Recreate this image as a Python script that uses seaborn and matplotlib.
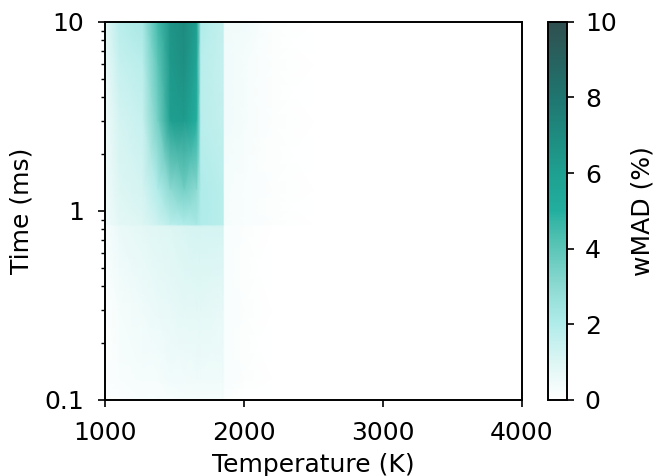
import numpy as np
import matplotlib
matplotlib.use("Agg")
import matplotlib.pyplot as plt
from matplotlib.colors import LinearSegmentedColormap
import seaborn as sns

# Temperature nodes (K)
temperature = [1000, 1100, 1270, 1380, 1470, 1570, 1660, 1690, 1850, 1860, 2000, 2200, 2500, 4000]
# Time nodes (ms)
time_ms = [0.1, 0.13, 0.3, 0.83, 0.85, 1.3, 3, 6, 10]
# wMAD (%) values, rows = time (low to high), cols = temperature
wmad_t0p10 = [0.1, 0.1, 0.2, 0.2, 0.2, 0.3, 0.3, 0.3, 0.3, 0.1, 0.0, 0.0, 0.0, 0.0]
wmad_t0p13 = [0.1, 0.2, 0.3, 0.3, 0.4, 0.4, 0.5, 0.5, 0.5, 0.2, 0.1, 0.0, 0.0, 0.0]
wmad_t0p30 = [0.1, 0.3, 0.5, 0.6, 0.7, 0.8, 0.8, 0.8, 0.7, 0.2, 0.1, 0.0, 0.0, 0.0]
wmad_t0p83 = [0.2, 0.6, 0.8, 0.9, 1.0, 1.1, 1.2, 1.2, 1.2, 0.2, 0.1, 0.0, 0.0, 0.0]
wmad_t0p85 = [0.4, 0.8, 1.0, 1.4, 1.8, 2.0, 2.2, 2.0, 1.8, 0.3, 0.2, 0.1, 0.0, 0.0]
wmad_t1p3 = [0.4, 1.0, 1.2, 2.0, 3.0, 3.5, 3.0, 2.0, 1.8, 0.3, 0.2, 0.1, 0.0, 0.0]
wmad_t3 = [0.5, 1.2, 1.5, 3.5, 6.0, 6.2, 5.0, 1.8, 1.6, 0.4, 0.3, 0.1, 0.0, 0.0]
wmad_t6 = [0.6, 1.5, 1.8, 4.0, 6.3, 6.8, 5.5, 1.8, 1.5, 0.4, 0.3, 0.1, 0.0, 0.0]
wmad_t10 = [0.8, 1.8, 2.2, 4.5, 6.5, 7.0, 6.0, 2.0, 1.6, 0.5, 0.4, 0.1, 0.0, 0.0]

x_ticks = [1000, 2000, 3000, 4000]
y_ticks = [0.1, 1, 10]
y_ticklabels = ["0.1", "1", "10"]
cbar_ticks = [0, 2, 4, 6, 8, 10]

sns.set_style("ticks")
plt.rcParams["font.family"] = ["DejaVu Sans"]
for k in ["text.color", "axes.labelcolor", "xtick.color", "ytick.color", "axes.edgecolor"]:
    plt.rcParams[k] = "black"

FS = 18

cmap = LinearSegmentedColormap.from_list(
    "wmad",
    [(0.0, "#ffffff"), (0.1, "#dcf6f4"), (0.2, "#b0ecea"), (0.3, "#8cdad2"),
     (0.4, "#5cc6b8"), (0.47, "#38b6a6"), (0.5, "#22ae9e"), (0.6, "#1ea090"),
     (0.8, "#1f7670"), (1.0, "#2f4f4f")])

Z = np.array([wmad_t0p10, wmad_t0p13, wmad_t0p30, wmad_t0p83, wmad_t0p85,
              wmad_t1p3, wmad_t3, wmad_t6, wmad_t10])
X, Y = np.meshgrid(temperature, time_ms)

fig = plt.figure(figsize=(6.53, 4.76), dpi=100)
ax = fig.add_axes([0.161, 0.160, 0.638, 0.794])
cax = fig.add_axes([0.839, 0.160, 0.029, 0.794])

mesh = ax.pcolormesh(X, Y, Z, shading="gouraud", cmap=cmap, vmin=0, vmax=10)
ax.set_yscale("log")
ax.set_xlim(1000, 4000)
ax.set_ylim(0.1, 10)
ax.set_xticks(x_ticks)
ax.set_yticks(y_ticks)
ax.set_yticklabels(y_ticklabels)
ax.tick_params(labelsize=FS, direction="out", length=5, width=1.2, pad=10)
ax.tick_params(which="minor", length=3, width=1.0)
ax.set_xlabel("Temperature (K)", fontsize=FS, labelpad=6)
ax.set_ylabel("Time (ms)", fontsize=FS, labelpad=8)
for s in ax.spines.values():
    s.set_visible(True)
    s.set_linewidth(1.4)

cb = fig.colorbar(mesh, cax=cax, ticks=cbar_ticks)
cb.set_label("wMAD (%)", fontsize=FS, labelpad=10)
cb.ax.tick_params(labelsize=FS, length=5, width=1.2, pad=8)
cb.outline.set_linewidth(1.4)

fig.savefig("out.png", dpi=100)
